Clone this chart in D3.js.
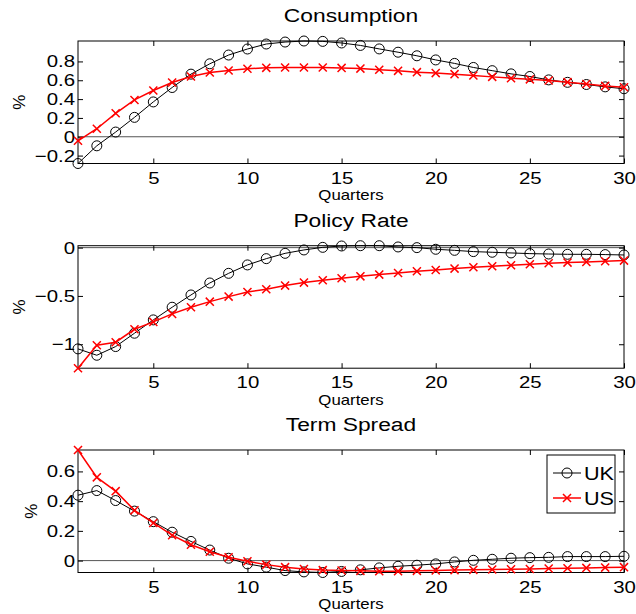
<!DOCTYPE html>
<html>
<head>
<meta charset="utf-8">
<script src="https://cdn.jsdelivr.net/npm/d3@7"></script>
<style>
  body { margin: 0; background: #fff; }
  text { font-family: "Liberation Sans", Arial, sans-serif; fill: #000; }
</style>
</head>
<body>
<div id="chart"></div>
<script>
// Data
const quarters = [1, 2, 3, 4, 5, 6, 7, 8, 9, 10, 11, 12, 13, 14, 15,
                  16, 17, 18, 19, 20, 21, 22, 23, 24, 25, 26, 27, 28, 29, 30];

const consUK = [-0.284, -0.096, 0.05, 0.206, 0.37, 0.523, 0.665, 0.775, 0.868, 0.932,
                0.985, 1.006, 1.017, 1.013, 0.996, 0.97, 0.933, 0.898, 0.86, 0.816,
                0.779, 0.736, 0.702, 0.668, 0.64, 0.604, 0.578, 0.555, 0.53, 0.51];
const consUS = [-0.043, 0.085, 0.249, 0.391, 0.491, 0.576, 0.64, 0.683, 0.704, 0.722,
                0.732, 0.736, 0.736, 0.736, 0.731, 0.724, 0.711, 0.70, 0.686, 0.676,
                0.665, 0.651, 0.636, 0.622, 0.61, 0.597, 0.58, 0.56, 0.54, 0.526];

const rateUK = [-1.048, -1.114, -1.024, -0.886, -0.748, -0.617, -0.49, -0.366, -0.266, -0.179,
                -0.114, -0.059, -0.024, 0.003, 0.017, 0.02, 0.02, 0.007, 0.0, -0.017,
                -0.028, -0.041, -0.048, -0.055, -0.062, -0.066, -0.069, -0.069, -0.072, -0.076];
const rateUS = [-1.248, -1.01, -0.979, -0.845, -0.769, -0.686, -0.617, -0.559, -0.507, -0.459,
                -0.431, -0.393, -0.362, -0.338, -0.317, -0.297, -0.279, -0.262, -0.245, -0.231,
                -0.217, -0.203, -0.193, -0.183, -0.172, -0.162, -0.155, -0.148, -0.141, -0.134];

const spreadUK = [0.44, 0.471, 0.404, 0.333, 0.262, 0.191, 0.129, 0.071, 0.016, -0.022,
                  -0.044, -0.067, -0.076, -0.08, -0.073, -0.062, -0.049, -0.038, -0.031, -0.022,
                  -0.009, 0.002, 0.009, 0.016, 0.02, 0.022, 0.027, 0.027, 0.027, 0.029];
const spreadUS = [0.744, 0.56, 0.467, 0.338, 0.253, 0.171, 0.107, 0.06, 0.022, -0.004,
                  -0.027, -0.044, -0.056, -0.064, -0.067, -0.069, -0.071, -0.071, -0.069, -0.067,
                  -0.064, -0.062, -0.06, -0.058, -0.056, -0.053, -0.051, -0.049, -0.047, -0.044];

const xTicks = [5, 10, 15, 20, 25, 30];
const consTicks = [-0.2, 0, 0.2, 0.4, 0.6, 0.8];
const rateTicks = [-1, -0.5, 0];
const spreadTicks = [0, 0.2, 0.4, 0.6];

const titles = ["Consumption", "Policy Rate", "Term Spread"];
const seriesNames = ["UK", "US"];

// Layout
const width = 636, height = 614;
const left = 78, right = 624, panelH = 122.5;
const panelTops = [41, 245.7, 450];
const stretchX = 1.2;   // the source font is drawn wider than it is tall

const panels = [
  {title: titles[0], uk: consUK, us: consUS, ticks: consTicks},
  {title: titles[1], uk: rateUK, us: rateUS, ticks: rateTicks},
  {title: titles[2], uk: spreadUK, us: spreadUS, ticks: spreadTicks}
];

const svg = d3.select("#chart").append("svg")
  .attr("width", width)
  .attr("height", height);

const x = d3.scaleLinear().domain([1, 30]).range([left, right]);
const fmt = d => d === 0 ? "0" : d3.format("~g")(d);

// widen text around its own anchor point
function stretch(sel) {
  sel.each(function() {
    const t = d3.select(this);
    const tx = +t.attr("x") || 0;
    t.attr("transform", `translate(${tx},0) scale(${stretchX},1) translate(${-tx},0)`);
  });
}

const circleSym = d3.symbol(d3.symbolCircle, Math.PI * 25);
const crossSym = d3.symbol(d3.symbolX, 44);

panels.forEach((p, k) => {
  const top = panelTops[k], bottom = top + panelH;
  const y = d3.scaleLinear()
    .domain(d3.extent(p.uk.concat(p.us)))
    .range([bottom, top]);

  const g = svg.append("g");

  // zero line
  g.append("line")
    .attr("x1", left).attr("x2", right)
    .attr("y1", y(0)).attr("y2", y(0))
    .attr("stroke", "#555").attr("stroke-width", 1);

  // axes, ticks pointing inward on all four sides
  g.append("g")
    .attr("transform", `translate(0,${bottom})`)
    .call(d3.axisBottom(x).tickValues(xTicks).tickSizeInner(-5).tickSizeOuter(0).tickPadding(8));
  g.append("g")
    .attr("transform", `translate(0,${top})`)
    .call(d3.axisTop(x).tickValues(xTicks).tickSizeInner(-5).tickSizeOuter(0).tickFormat(""));
  const yl = g.append("g")
    .attr("transform", `translate(${left},0)`)
    .call(d3.axisLeft(y).tickValues(p.ticks).tickSizeInner(-5).tickSizeOuter(0).tickPadding(3).tickFormat(fmt));
  g.append("g")
    .attr("transform", `translate(${right},0)`)
    .call(d3.axisRight(y).tickValues(p.ticks).tickSizeInner(-5).tickSizeOuter(0).tickFormat(""));

  g.selectAll(".domain").remove();
  g.selectAll(".tick line").attr("stroke", "#000");
  g.selectAll(".tick text")
    .attr("font-family", "Liberation Sans, Arial, sans-serif")
    .attr("font-size", 17)
    .call(stretch);

  // box
  g.append("rect")
    .attr("x", left).attr("y", top)
    .attr("width", right - left).attr("height", panelH)
    .attr("fill", "none").attr("stroke", "#000").attr("stroke-width", 1);

  // labels
  g.append("text")
    .attr("x", (left + right) / 2).attr("y", top - 19)
    .attr("text-anchor", "middle")
    .attr("font-size", 19)
    .text(p.title)
    .call(stretch);

  g.append("text")
    .attr("x", (left + right) / 2).attr("y", bottom + 37)
    .attr("text-anchor", "middle")
    .attr("font-size", 14)
    .text("Quarters")
    .call(stretch);

  // y label sits just left of the widest tick label
  const yBox = yl.node().getBBox();
  g.append("text")
    .attr("transform", `translate(${left + yBox.x - 10},${(top + bottom) / 2}) rotate(-90)`)
    .attr("text-anchor", "middle")
    .attr("font-size", 17)
    .text("%");

  // series
  const line = d3.line()
    .x((d, i) => x(quarters[i]))
    .y(d => y(d));

  g.append("path")
    .datum(p.uk)
    .attr("d", line)
    .attr("fill", "none").attr("stroke", "#000").attr("stroke-width", 1);
  g.selectAll(".uk-mark")
    .data(p.uk)
    .join("path")
      .attr("class", "uk-mark")
      .attr("transform", (d, i) => `translate(${x(quarters[i])},${y(d)})`)
      .attr("d", circleSym)
      .attr("fill", "none").attr("stroke", "#000").attr("stroke-width", 1);

  g.append("path")
    .datum(p.us)
    .attr("d", line)
    .attr("fill", "none").attr("stroke", "#f00").attr("stroke-width", 1.5);
  g.selectAll(".us-mark")
    .data(p.us)
    .join("path")
      .attr("class", "us-mark")
      .attr("transform", (d, i) => `translate(${x(quarters[i])},${y(d)})`)
      .attr("d", crossSym)
      .attr("fill", "none").attr("stroke", "#f00").attr("stroke-width", 1.5);

  // legend in the last panel
  if (k === panels.length - 1) {
    const lg = svg.append("g")
      .attr("transform", `translate(${right - 77},${top + 5})`);
    lg.append("rect")
      .attr("width", 68).attr("height", 58)
      .attr("fill", "#fff").attr("stroke", "#000").attr("stroke-width", 1);
    seriesNames.forEach((name, j) => {
      const ly = 18 + j * 25;
      const col = j === 0 ? "#000" : "#f00";
      lg.append("line")
        .attr("x1", 6).attr("x2", 34).attr("y1", ly).attr("y2", ly)
        .attr("stroke", col).attr("stroke-width", j === 0 ? 1 : 1.5);
      lg.append("path")
        .attr("transform", `translate(20,${ly})`)
        .attr("d", j === 0 ? circleSym : crossSym)
        .attr("fill", "none").attr("stroke", col).attr("stroke-width", j === 0 ? 1 : 1.5);
      lg.append("text")
        .attr("x", 37).attr("y", ly + 7)
        .attr("font-size", 18)
        .text(name)
        .call(stretch);
    });
  }
});
</script>
</body>
</html>
